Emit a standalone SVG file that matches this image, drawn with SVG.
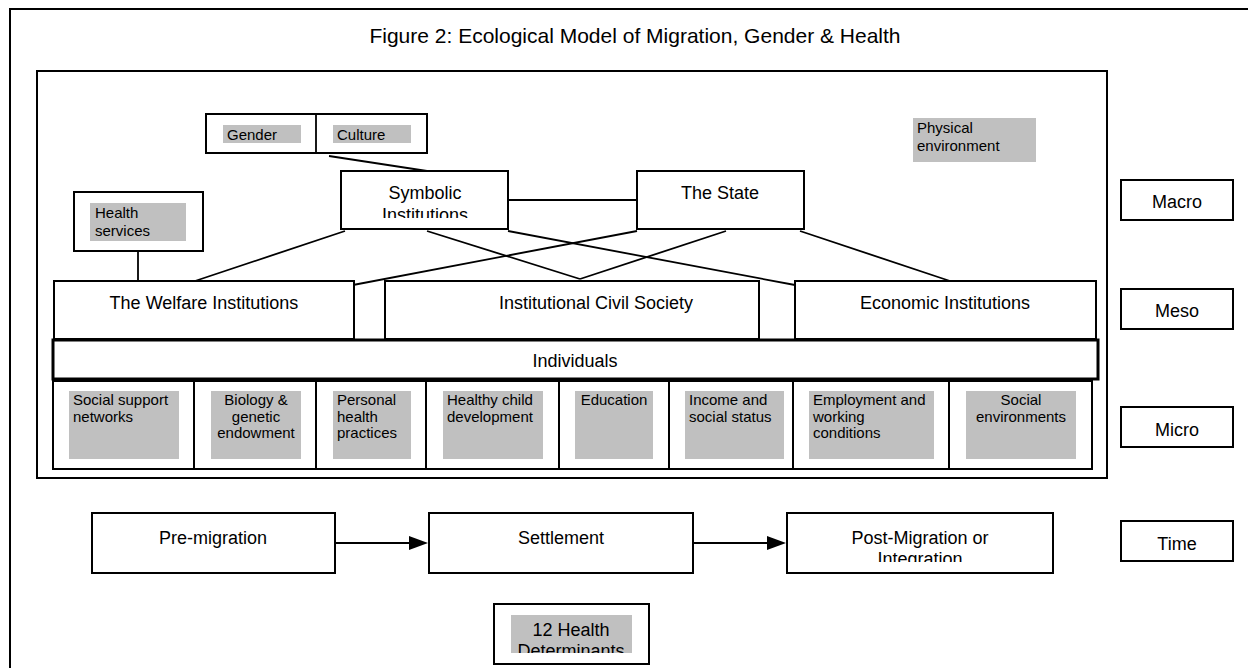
<svg xmlns="http://www.w3.org/2000/svg" width="1248" height="668" viewBox="0 0 1248 668">
<style>
.box{fill:#fff;stroke:#000;stroke-width:2}
.frame{fill:none;stroke:#000;stroke-width:2}
.grey{fill:#c0c0c0}
.t{font-family:"Liberation Sans",Arial,sans-serif;fill:#000}
.big{font-size:18px}
.sm{font-size:15px}
.c{text-anchor:middle}
.ln{stroke:#000;stroke-width:1.8;fill:none}
</style>
<defs>
<clipPath id="clipSym"><rect x="340" y="170" width="170" height="48"/></clipPath>
<clipPath id="clipPost"><rect x="787" y="513" width="266" height="49"/></clipPath>
<clipPath id="clipDet"><rect x="511" y="615" width="121" height="38"/></clipPath>
</defs>
<rect width="1248" height="668" fill="#fff"/>
<g id="outer-frame">
<path class="frame" d="M1248,9 H10 V668"/>
</g>
<text class="t c" x="635" y="43" font-size="21">Figure 2: Ecological Model of Migration, Gender &amp; Health</text>
<g id="inner-frame">
<rect class="frame" x="37" y="71" width="1070" height="407"/>
</g>
<g id="connectors">
<line class="ln" x1="329" y1="156" x2="427" y2="171"/>
<line class="ln" x1="508" y1="200" x2="637" y2="200"/>
<line class="ln" x1="138" y1="251" x2="138" y2="281"/>
<line class="ln" x1="345" y1="231" x2="195" y2="281"/>
<line class="ln" x1="427" y1="231" x2="580" y2="279"/>
<line class="ln" x1="508" y1="231" x2="795" y2="285"/>
<line class="ln" x1="637" y1="231" x2="353" y2="285"/>
<line class="ln" x1="726" y1="231" x2="580" y2="279"/>
<line class="ln" x1="800" y1="231" x2="950" y2="281"/>
<line class="ln" x1="336" y1="543" x2="410" y2="543"/>
<polygon points="409,536 428,543 409,550" fill="#000"/>
<line class="ln" x1="694" y1="543" x2="768" y2="543"/>
<polygon points="767,536 786,543 767,550" fill="#000"/>
</g>
<g id="gender-culture">
<rect class="box" x="206" y="114" width="221" height="39"/>
<line class="ln" x1="316" y1="114" x2="316" y2="153"/>
<rect class="grey" x="223" y="125" width="78" height="18"/>
<text class="t sm" x="227" y="140">Gender</text>
<rect class="grey" x="333" y="125" width="78" height="18"/>
<text class="t sm" x="337" y="140">Culture</text>
</g>
<g id="physical-environment">
<rect class="grey" x="913" y="118" width="123" height="44"/>
<text class="t sm" x="917" y="133">Physical</text>
<text class="t sm" x="917" y="151">environment</text>
</g>
<g id="health-services">
<rect class="box" x="74" y="192" width="129" height="59"/>
<rect class="grey" x="90" y="203" width="96" height="38"/>
<text class="t sm" x="95" y="218">Health</text>
<text class="t sm" x="95" y="236">services</text>
</g>
<g id="symbolic-institutions">
<rect class="box" x="341" y="171" width="167" height="58"/>
<g clip-path="url(#clipSym)">
<text class="t big c" x="425" y="199">Symbolic</text>
<text class="t big c" x="425" y="221">Institutions</text>
</g>
</g>
<g id="the-state">
<rect class="box" x="637" y="171" width="167" height="58"/>
<text class="t big c" x="720" y="199">The State</text>
</g>
<g id="welfare-institutions">
<rect class="box" x="54" y="281" width="300" height="58"/>
<text class="t big c" x="204" y="309">The Welfare Institutions</text>
</g>
<g id="civil-society">
<rect class="box" x="385" y="281" width="374" height="58"/>
<text class="t big c" x="596" y="309">Institutional Civil Society</text>
</g>
<g id="economic-institutions">
<rect class="box" x="795" y="281" width="301" height="58"/>
<text class="t big c" x="945" y="309">Economic Institutions</text>
</g>
<g id="individuals">
<rect x="53" y="340" width="1045" height="39" fill="#fff" stroke="#000" stroke-width="3"/>
<text class="t big c" x="575" y="367">Individuals</text>
</g>
<g id="micro-cells">
<rect class="box" x="53" y="381" width="141" height="88"/>
<rect class="box" x="194" y="381" width="122" height="88"/>
<rect class="box" x="316" y="381" width="110" height="88"/>
<rect class="box" x="426" y="381" width="133" height="88"/>
<rect class="box" x="559" y="381" width="110" height="88"/>
<rect class="box" x="669" y="381" width="124" height="88"/>
<rect class="box" x="793" y="381" width="156" height="88"/>
<rect class="box" x="949" y="381" width="143" height="88"/>
<rect class="grey" x="69" y="391" width="110" height="68"/>
<rect class="grey" x="211" y="391" width="90" height="68"/>
<rect class="grey" x="333" y="391" width="78" height="68"/>
<rect class="grey" x="443" y="391" width="100" height="68"/>
<rect class="grey" x="575" y="391" width="78" height="68"/>
<rect class="grey" x="685" y="391" width="99" height="68"/>
<rect class="grey" x="809" y="391" width="125" height="68"/>
<rect class="grey" x="966" y="391" width="110" height="68"/>
<text class="t sm" x="73" y="405">Social support</text>
<text class="t sm" x="73" y="421.5">networks</text>
<text class="t sm c" x="256" y="405">Biology &amp;</text>
<text class="t sm c" x="256" y="421.5">genetic</text>
<text class="t sm c" x="256" y="438">endowment</text>
<text class="t sm" x="337" y="405">Personal</text>
<text class="t sm" x="337" y="421.5">health</text>
<text class="t sm" x="337" y="438">practices</text>
<text class="t sm" x="447" y="405">Healthy child</text>
<text class="t sm" x="447" y="421.5">development</text>
<text class="t sm c" x="614" y="405">Education</text>
<text class="t sm" x="689" y="405">Income and</text>
<text class="t sm" x="689" y="421.5">social status</text>
<text class="t sm" x="813" y="405">Employment and</text>
<text class="t sm" x="813" y="421.5">working</text>
<text class="t sm" x="813" y="438">conditions</text>
<text class="t sm c" x="1021" y="405">Social</text>
<text class="t sm c" x="1021" y="421.5">environments</text>
</g>
<g id="macro">
<rect class="box" x="1121" y="180" width="112" height="40"/>
<text class="t big c" x="1177" y="208">Macro</text>
</g>
<g id="meso">
<rect class="box" x="1121" y="289" width="112" height="40"/>
<text class="t big c" x="1177" y="317">Meso</text>
</g>
<g id="micro">
<rect class="box" x="1121" y="407" width="112" height="40"/>
<text class="t big c" x="1177" y="436">Micro</text>
</g>
<g id="pre-migration">
<rect class="box" x="92" y="513" width="243" height="60"/>
<text class="t big c" x="213" y="544">Pre-migration</text>
</g>
<g id="settlement">
<rect class="box" x="429" y="513" width="264" height="60"/>
<text class="t big c" x="561" y="544">Settlement</text>
</g>
<g id="post-migration">
<rect class="box" x="787" y="513" width="266" height="60"/>
<g clip-path="url(#clipPost)">
<text class="t big c" x="920" y="544">Post-Migration or</text>
<text class="t big c" x="920" y="565">Integration</text>
</g>
</g>
<g id="time">
<rect class="box" x="1121" y="521" width="112" height="40"/>
<text class="t big c" x="1177" y="550">Time</text>
</g>
<g id="health-determinants">
<rect class="box" x="494" y="604" width="155" height="60"/>
<rect class="grey" x="511" y="615" width="121" height="38"/>
<g clip-path="url(#clipDet)">
<text class="t big c" x="571" y="636">12 Health</text>
<text class="t big c" x="571" y="657">Determinants</text>
</g>
</g>
</svg>
